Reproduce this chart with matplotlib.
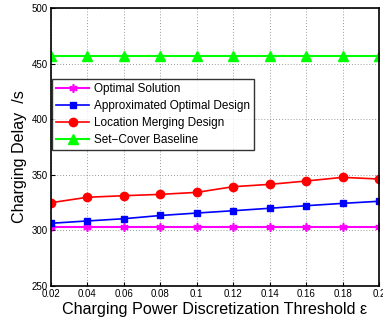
import matplotlib
matplotlib.use("Agg")
import matplotlib.pyplot as plt

plt.rcParams['font.family'] = ['Liberation Sans', 'DejaVu Sans']

eps = [0.02, 0.04, 0.06, 0.08, 0.10, 0.12, 0.14, 0.16, 0.18, 0.20]
optimal = [303.3] * 10
approx = [306.4, 308.5, 310.5, 313.4, 315.6, 317.7, 319.9, 322.2, 324.3, 326.2]
merging = [324.9, 329.8, 331.2, 332.4, 334.2, 339.3, 341.4, 344.4, 347.7, 346.2]
setcover = [456.8] * 10
xticks = [0.02, 0.04, 0.06, 0.08, 0.1, 0.12, 0.14, 0.16, 0.18, 0.2]
xticklabels = ['0.02', '0.04', '0.06', '0.08', '0.1', '0.12', '0.14', '0.16', '0.18', '0.2']
yticks = [250, 300, 350, 400, 450, 500]

fig = plt.figure(figsize=(3.83, 3.25), dpi=100)
ax = fig.add_axes([51/383, 1 - 286/325, (379-51)/383, (286-8)/325])

ax.plot(eps, optimal, color='#ff00ff', marker=(6, 2, 0), markersize=6, mew=1.2, lw=1.5, label='Optimal Solution')
ax.plot(eps, approx, color='#0000ff', marker='s', markersize=5, lw=1.2, label='Approximated Optimal Design')
ax.plot(eps, merging, color='#ff0000', marker='o', markersize=6, lw=1.2, label='Location Merging Design')
ax.plot(eps, setcover, color='#00ff00', marker='^', markersize=6.5, lw=1.5, label='Set\u2212Cover Baseline')

ax.set_xlim(0.02, 0.2)
ax.set_ylim(250, 500)
ax.set_xticks(xticks)
ax.set_xticklabels(xticklabels)
ax.set_yticks(yticks)
ax.tick_params(labelsize=7, direction='in', length=3, width=0.8, pad=2.5)
ax.grid(True, linestyle=(0, (1, 2.5)), color='#777777', linewidth=0.6)
for s in ax.spines.values():
    s.set_linewidth(1.2)

ax.set_xlabel('Charging Power Discretization Threshold \u03b5', fontsize=11.6, labelpad=2)
ax.set_ylabel('Charging Delay  /s', fontsize=11.6)
ax.yaxis.set_label_coords(-0.073, 0.466)

leg = ax.legend(loc='upper left', bbox_to_anchor=(0.004, 0.745), fontsize=8.5,
                frameon=True, fancybox=False, edgecolor='black', borderpad=0.35,
                labelspacing=0.42, handlelength=2.8, handletextpad=0.35, borderaxespad=0)
leg.get_frame().set_linewidth(1.0)

fig.savefig('out.png', dpi=100)
